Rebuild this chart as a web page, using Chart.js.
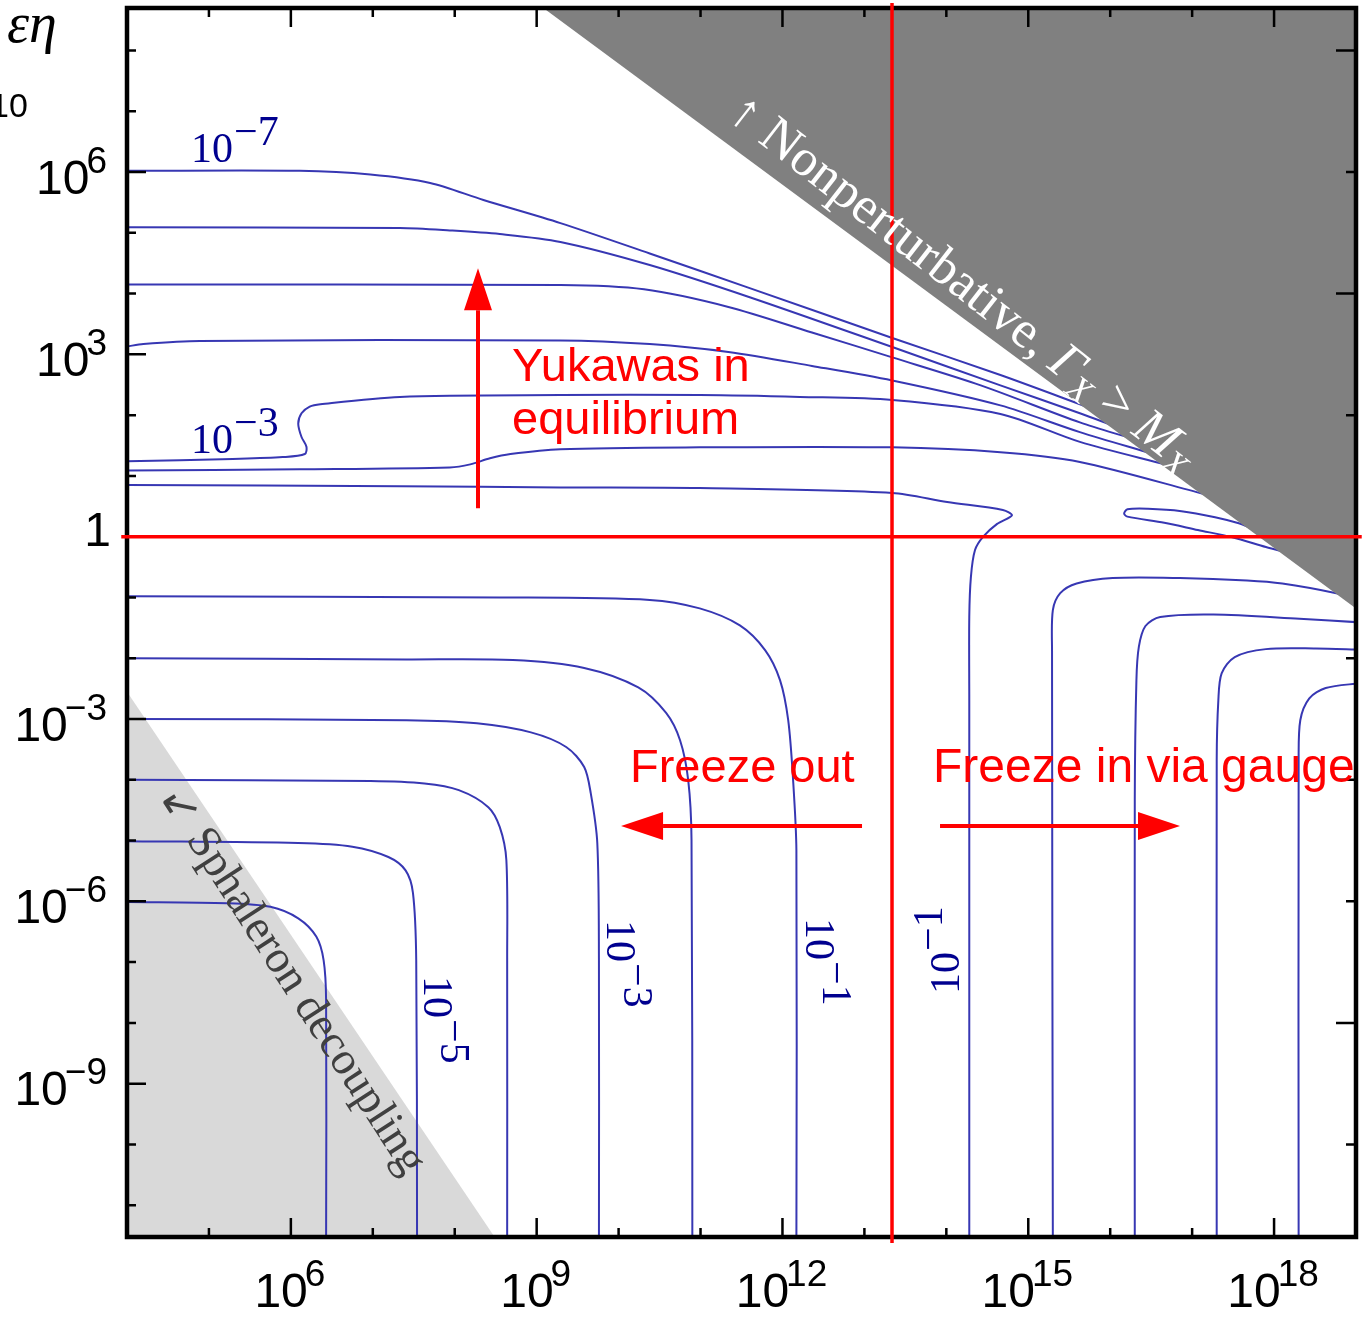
<!DOCTYPE html>
<html>
<head>
<meta charset="utf-8">
<script src="https://cdn.jsdelivr.net/npm/chart.js@4.4.1/dist/chart.umd.min.js"></script>
<style>
  html, body { margin: 0; padding: 0; background: #fff; }
  #wrap { position: relative; width: 1365px; height: 1319px; }
</style>
</head>
<body>
<div id="wrap"><canvas id="c"></canvas></div>
<script>
// ---- axis ranges, as log10 exponents ----
const xExpRange = [4, 19];
const yExpRange = [-11.523, 8.699];

// ---- tick exponents ----
const xTickExps = [5, 6, 7, 8, 9, 10, 11, 12, 13, 14, 15, 16, 17, 18];
const xLabelExps = [6, 9, 12, 15, 18];
const yTickExps = [-11, -10, -9, -8, -7, -6, -5, -4, -3, -2, -1, 0, 1, 2, 3, 4, 5, 6, 7, 8];
const yLabelExps = [-9, -6, -3, 0, 3, 6];
const rightTickExps = [8, 6, 4, 2, 0, -2, -4, -6, -8, -10];

// ---- contour paths, [log10 x, log10 y] ----
const level7Upper = [[4,6.02],[6.11,6.02],[6.97,5.96],[7.70,5.82],[8.35,5.54],[9.29,5.16],[10.38,4.66],[11.60,4.09],[13.34,3.27],[14.66,2.66],[15.75,2.12]];
const level6Upper = [[4,5.09],[7.33,5.08],[7.94,5.04],[8.55,4.98],[9.29,4.85],[10.38,4.47],[11.60,3.94],[13.34,3.12],[14.66,2.49],[15.63,2.03],[16.05,1.82]];
const level5Upper = [[4,4.15],[9.29,4.14],[10.31,4.07],[11.34,3.78],[12.36,3.36],[13.34,2.95],[14.42,2.49],[15.63,1.88],[16.25,1.62]];
const level4Upper = [[4,3.13],[4.2,3.17],[4.89,3.22],[9.29,3.23],[10.38,3.17],[11.34,3.04],[12.36,2.81],[13.34,2.57],[14.66,2.16],[15.63,1.72],[16.5,1.37]];
const level3Upper = [[4,1.24],[5.29,1.28],[5.90,1.31],[6.17,1.36],[6.19,1.48],[6.13,1.64],[6.09,1.86],[6.13,2.03],[6.23,2.14],[6.36,2.18],[7.33,2.30],[9.29,2.33],[10.99,2.33],[12.21,2.30],[13.34,2.25],[14.66,2.02],[15.63,1.56],[16.7,1.18]];
const level2Upper = [[4,1.09],[6.11,1.11],[7.94,1.14],[8.19,1.19],[8.43,1.29],[8.68,1.36],[9.29,1.44],[10.99,1.47],[13.34,1.47],[14.66,1.39],[15.63,1.23],[17.15,0.70]];
const level1Main  = [[4,0.85],[7.33,0.83],[9.29,0.81],[10.99,0.80],[13.34,0.72],[14.01,0.57],[14.69,0.44],[14.80,0.35],[14.62,0.21],[14.45,0.00],[14.35,-0.22],[14.30,-0.66],[14.28,-1.32],[14.28,-2.69],[14.28,-11.6]];
const level1Tip   = [[17.70,0.15],[17.57,0.22],[17.28,0.32],[16.87,0.42],[16.46,0.46],[16.21,0.45],[16.17,0.38],[16.21,0.33],[16.66,0.23],[17.07,0.11],[17.49,-0.01],[17.90,-0.17],[18.15,-0.26]];

const level1Left = [[4,-0.98],[8.55,-1.00],[10.38,-1.04],[10.99,-1.18],[11.48,-1.46],[11.79,-1.87],[11.97,-2.36],[12.07,-3.02],[12.13,-4.01],[12.17,-5.16],[12.17,-11.6]];
const level2Left = [[4,-2.00],[7.41,-2.02],[8.71,-2.03],[9.58,-2.16],[10.24,-2.48],[10.58,-2.90],[10.75,-3.35],[10.85,-4.01],[10.89,-4.99],[10.90,-11.6]];
const level3Left = [[4,-3.00],[7.41,-3.02],[8.27,-3.07],[8.93,-3.22],[9.36,-3.46],[9.58,-3.79],[9.66,-4.22],[9.74,-5.04],[9.76,-6.97],[9.76,-11.6]];
const level4Left = [[4,-4.00],[6.97,-4.02],[7.63,-4.06],[8.05,-4.17],[8.41,-4.45],[8.55,-4.78],[8.63,-5.32],[8.64,-6.97],[8.64,-11.6]];
const level5Left = [[4,-5.01],[6.09,-5.04],[6.75,-5.10],[7.19,-5.27],[7.40,-5.49],[7.49,-5.86],[7.53,-6.97],[7.54,-11.6]];
const level6Left = [[4,-6.01],[5.22,-6.03],[5.75,-6.09],[6.09,-6.28],[6.31,-6.58],[6.40,-6.97],[6.43,-7.63],[6.43,-11.6]];

const level2Right = [[15.30,-11.6],[15.29,-1.87],[15.30,-1.21],[15.39,-0.93],[15.59,-0.77],[16.03,-0.68],[16.85,-0.68],[17.67,-0.72],[18.10,-0.77],[18.76,-0.93],[18.90,-1.00]];
const level3Right = [[16.30,-11.6],[16.30,-4.33],[16.32,-2.36],[16.35,-1.81],[16.43,-1.47],[16.61,-1.32],[17.26,-1.28],[18.31,-1.35],[19.05,-1.41]];
const level4Right = [[17.30,-11.6],[17.30,-3.68],[17.32,-2.69],[17.36,-2.25],[17.52,-1.98],[17.90,-1.85],[18.51,-1.84],[19.05,-1.86]];
const level5Right = [[18.30,-11.6],[18.30,-3.68],[18.32,-3.02],[18.43,-2.66],[18.63,-2.49],[19.05,-2.41]];

// ---- excluded regions ----
const nonPerturbative = [[8.95,8.83],[19.1,-1.28],[19.1,8.83]];
const sphaleronRegion = [[3.9,-2.35],[8.55,-11.65],[3.9,-11.65]];

// ---- reference lines ----
const yukawaLine = [[3.93,0],[19.07,0]];
const massLine   = [[13.337,-11.62],[13.337,8.78]];

// ---- arrows, [log10 x, log10 y] from / to ----
const arrowUp    = [[8.284,0.469],[8.284,4.417]];
const arrowLeft  = [[12.971,-4.762],[10.03,-4.762]];
const arrowRight = [[13.923,-4.762],[16.852,-4.762]];

const toPoints = arr => arr.map(([a, b]) => ({ x: 10 ** a, y: 10 ** b }));

const contourColor = '#3737b3';
const labelBlue = '#00008f';
const SANS = '"Liberation Sans", Arial, sans-serif';
const SERIF = '"Liberation Serif", "Times New Roman", serif';

const contourPaths = [level7Upper, level6Upper, level5Upper, level4Upper, level3Upper, level2Upper, level1Main, level1Tip,
  level1Left, level2Left, level3Left, level4Left, level5Left, level6Left,
  level2Right, level3Right, level4Right, level5Right];

const datasets = [];
datasets.push({ data: toPoints(sphaleronRegion), fill: 'shape', backgroundColor: '#d9d9d9', borderWidth: 0, pointRadius: 0, order: 6 });
for (const path of contourPaths) {
  datasets.push({ data: toPoints(path), borderColor: contourColor, borderWidth: 2, pointRadius: 0, fill: false, tension: 0.3, order: 4 });
}
const grayIndex = datasets.length;
datasets.push({ data: toPoints(nonPerturbative), fill: 'shape', backgroundColor: '#808080', borderWidth: 0, pointRadius: 0, order: 3 });
datasets.push({ data: toPoints(yukawaLine), borderColor: '#ff0000', borderWidth: 3.5, pointRadius: 0, fill: false, order: 1, clip: 6 });
datasets.push({ data: toPoints(massLine), borderColor: '#ff0000', borderWidth: 3.5, pointRadius: 0, fill: false, order: 1, clip: 6 });

// frame and inward ticks, drawn right after the shaded region
const framePlugin = {
  id: 'frame',
  afterDatasetDraw(chart, args) {
    if (args.index !== grayIndex) return;
    const { ctx, chartArea: a } = chart;
    const xs = chart.scales.x, ys = chart.scales.y;
    ctx.save();
    ctx.strokeStyle = '#000';
    ctx.lineWidth = 2.5;
    ctx.beginPath();
    for (const e of xTickExps) {
      const p = xs.getPixelForValue(10 ** e);
      const len = xLabelExps.includes(e) ? 19 : 9;
      ctx.moveTo(p, a.bottom); ctx.lineTo(p, a.bottom - len);
      ctx.moveTo(p, a.top); ctx.lineTo(p, a.top + len);
    }
    for (const e of yTickExps) {
      const p = ys.getPixelForValue(10 ** e);
      const len = yLabelExps.includes(e) ? 19 : 9;
      ctx.moveTo(a.left, p); ctx.lineTo(a.left + len, p);
    }
    for (const e of rightTickExps) {
      const p = ys.getPixelForValue(10 ** e);
      const len = e % 4 === 0 ? 20 : 10;
      ctx.moveTo(a.right, p); ctx.lineTo(a.right - len, p);
    }
    ctx.stroke();
    ctx.lineWidth = 4.5;
    ctx.strokeRect(a.left, a.top, a.right - a.left, a.bottom - a.top);
    ctx.restore();
  }
};

function powerText(ctx, exp, anchorX, baseY, align) {
  ctx.textBaseline = 'alphabetic';
  ctx.textAlign = 'left';
  if (exp === 0) {
    ctx.font = '48px ' + SANS;
    const w = ctx.measureText('1').width;
    ctx.fillText('1', align === 'center' ? anchorX - w / 2 : anchorX - w + 4, baseY - 12);
    return;
  }
  const sup = exp < 0 ? '\u2212' + (-exp) : String(exp);
  ctx.font = '48px ' + SANS;
  const w1 = ctx.measureText('10').width;
  ctx.font = '37px ' + SANS;
  const w2 = ctx.measureText(sup).width;
  const total = w1 + w2 - 3;
  const x0 = align === 'center' ? anchorX - total / 2 : anchorX - total;
  ctx.font = '48px ' + SANS;
  ctx.fillText('10', x0, baseY);
  ctx.font = '37px ' + SANS;
  ctx.fillText(sup, x0 + w1 - 3, baseY - 21);
}

// contour label: "10" followed by a raised exponent of nearly the same size
function contourLabel(ctx, sup, x, y, rot) {
  ctx.save();
  ctx.translate(x, y);
  ctx.rotate(rot * Math.PI / 180);
  ctx.fillStyle = labelBlue;
  ctx.textAlign = 'left';
  ctx.textBaseline = 'alphabetic';
  ctx.font = '42px ' + SERIF;
  const w = ctx.measureText('10').width;
  ctx.fillText('10', 0, 0);
  ctx.font = '42px ' + SERIF;
  ctx.fillText(sup, w + 1, -17);
  ctx.restore();
}

function rotatedRuns(ctx, runs, x, y, deg, color) {
  ctx.save();
  ctx.translate(x, y);
  ctx.rotate(deg * Math.PI / 180);
  ctx.fillStyle = color;
  ctx.textAlign = 'left';
  ctx.textBaseline = 'alphabetic';
  let cx = 0;
  for (const r of runs) {
    ctx.font = r.font;
    ctx.fillText(r.t, cx, r.dy || 0);
    cx += ctx.measureText(r.t).width;
  }
  ctx.restore();
}

function arrow(ctx, from, to, xs, ys) {
  const x0 = xs.getPixelForValue(10 ** from[0]), y0 = ys.getPixelForValue(10 ** from[1]);
  const x1 = xs.getPixelForValue(10 ** to[0]), y1 = ys.getPixelForValue(10 ** to[1]);
  const ang = Math.atan2(y1 - y0, x1 - x0);
  const headLen = 42, headHalf = 14;
  const bx = x1 - headLen * Math.cos(ang), by = y1 - headLen * Math.sin(ang);
  ctx.save();
  ctx.strokeStyle = '#ff0000';
  ctx.fillStyle = '#ff0000';
  ctx.lineWidth = 4;
  ctx.beginPath();
  ctx.moveTo(x0, y0); ctx.lineTo(bx, by);
  ctx.stroke();
  ctx.beginPath();
  ctx.moveTo(x1, y1);
  ctx.lineTo(bx + headHalf * Math.sin(ang), by - headHalf * Math.cos(ang));
  ctx.lineTo(bx - headHalf * Math.sin(ang), by + headHalf * Math.cos(ang));
  ctx.closePath();
  ctx.fill();
  ctx.restore();
}

const textPlugin = {
  id: 'texts',
  afterDraw(chart) {
    const { ctx, chartArea: a } = chart;
    const xs = chart.scales.x, ys = chart.scales.y;
    ctx.save();
    ctx.fillStyle = '#000';
    ctx.textAlign = 'left';
    ctx.textBaseline = 'alphabetic';
    for (const e of yLabelExps) {
      powerText(ctx, e, a.left - 20, ys.getPixelForValue(10 ** e) + 21.5, 'right');
    }
    for (const e of xLabelExps) {
      powerText(ctx, e, xs.getPixelForValue(10 ** e) - 1, a.bottom + 70, 'center');
    }

    // axis title fragments at the top-left corner
    ctx.font = 'italic 56px ' + SERIF;
    ctx.fillText('\u03b5\u03b7', 7, 42);
    ctx.font = '34px ' + SANS;
    ctx.fillText('10', -10, 117);

    // contour level labels
    contourLabel(ctx, '\u22127', 191, 162, 0);
    contourLabel(ctx, '\u22123', 191, 453, 0);
    contourLabel(ctx, '\u22125', 424, 976, 90);
    contourLabel(ctx, '\u22123', 607, 920, 90);
    contourLabel(ctx, '\u22121', 806, 918, 90);
    contourLabel(ctx, '\u22121', 959, 994, -90);

    // region captions
    rotatedRuns(ctx, [
      { t: '\u2191 Nonperturbative, ', font: '52px ' + SERIF },
      { t: '\u0393', font: 'italic 52px ' + SERIF },
      { t: 'X', font: 'italic 36px ' + SERIF, dy: 9 },
      { t: ' > ', font: '52px ' + SERIF },
      { t: 'M', font: 'italic 52px ' + SERIF },
      { t: 'X', font: 'italic 36px ' + SERIF, dy: 9 }
    ], 726, 117, 38, '#ffffff');
    rotatedRuns(ctx, [
      { t: '\u2199 Sphaleron decoupling', font: '46px ' + SERIF }
    ], 158, 797, 57, '#404040');

    // red annotations
    ctx.fillStyle = '#ff0000';
    ctx.font = '47px ' + SANS;
    ctx.textAlign = 'left';
    ctx.fillText('Yukawas in', 512, 381);
    ctx.fillText('equilibrium', 512, 434);
    ctx.fillText('Freeze out', 630, 782);
    ctx.font = '48px ' + SANS;
    ctx.fillText('Freeze in via gauge', 933, 782);
    arrow(ctx, arrowUp[0], arrowUp[1], xs, ys);
    arrow(ctx, arrowLeft[0], arrowLeft[1], xs, ys);
    arrow(ctx, arrowRight[0], arrowRight[1], xs, ys);
    ctx.restore();
  }
};

new Chart(document.getElementById('c'), {
  type: 'line',
  data: { datasets },
  options: {
    responsive: true,
    maintainAspectRatio: false,
    animation: false,
    devicePixelRatio: 1,
    layout: { padding: { left: 127, right: 9, top: 8, bottom: 82 } },
    scales: {
      x: { type: 'logarithmic', min: 10 ** xExpRange[0], max: 10 ** xExpRange[1], display: false },
      y: { type: 'logarithmic', min: 10 ** yExpRange[0], max: 10 ** yExpRange[1], display: false }
    },
    plugins: { legend: { display: false }, tooltip: { enabled: false } },
    elements: { line: { capBezierPoints: true } }
  },
  plugins: [framePlugin, textPlugin]
});
</script>
</body>
</html>
